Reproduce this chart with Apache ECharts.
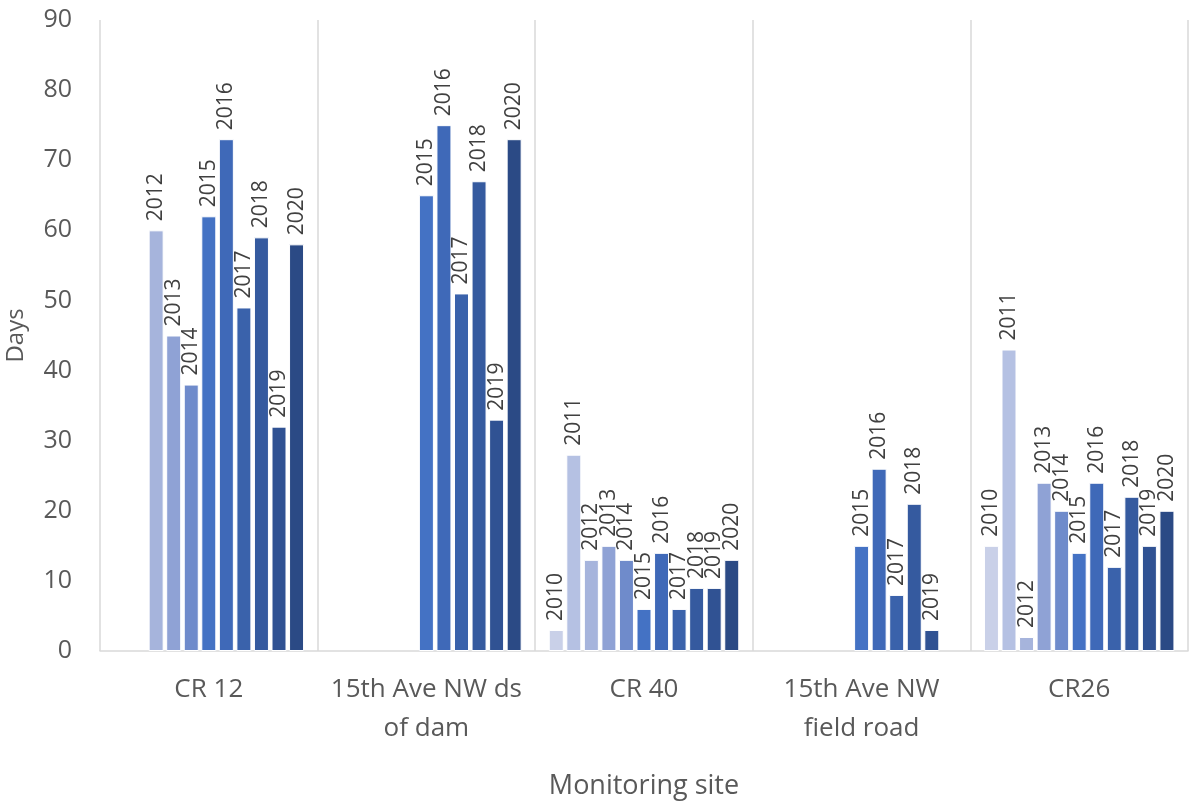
<!DOCTYPE html>
<html>
<head>
<meta charset="utf-8">
<script src="https://cdn.jsdelivr.net/npm/echarts@6/dist/echarts.min.js"></script>
<style>
  html, body { margin: 0; padding: 0; background: #fff; }
  #chart { width: 1191px; height: 802px; }
</style>
</head>
<body>
<div id="chart"></div>
<script>
// Monitoring sites along the x axis
const sites = ['CR 12', '15th Ave NW ds\nof dam', 'CR 40', '15th Ave NW\nfield road', 'CR26'];

// One series per year; null where a site was not monitored that year
const years = ['2010', '2011', '2012', '2013', '2014', '2015', '2016', '2017', '2018', '2019', '2020'];
const days2010 = [null, null, 3, null, 15];
const days2011 = [null, null, 28, null, 43];
const days2012 = [60, null, 13, null, 2];
const days2013 = [45, null, 15, null, 24];
const days2014 = [38, null, 13, null, 20];
const days2015 = [62, 65, 6, 15, 14];
const days2016 = [73, 75, 14, 26, 24];
const days2017 = [49, 51, 6, 8, 12];
const days2018 = [59, 67, 9, 21, 22];
const days2019 = [32, 33, 9, 3, 15];
const days2020 = [58, 73, 13, null, 20];
const yearValues = [days2010, days2011, days2012, days2013, days2014, days2015,
                    days2016, days2017, days2018, days2019, days2020];

// Monochrome blue ramp, light to dark
const yearColors = ['#C9D0E8', '#B5C1E3', '#A6B4DC', '#8FA2D5', '#6F8BCB', '#4472C4',
                    '#3F69B8', '#3A62AB', '#355A9F', '#305293', '#2B4A85'];

const font = '"Open Sans", "Noto Sans", sans-serif';

const series = years.map((y, i) => ({
  name: y,
  type: 'bar',
  data: yearValues[i],
  barWidth: 15,
  barGap: '17%',
  itemStyle: { color: yearColors[i], borderColor: '#ffffff', borderWidth: 1 },
  label: {
    show: true,
    position: 'top',
    rotate: 90,
    align: 'left',
    verticalAlign: 'middle',
    distance: 9,
    formatter: y,
    fontFamily: font,
    fontSize: 21,
    color: '#404040'
  }
}));

const chart = echarts.init(document.getElementById('chart'), null, { renderer: 'canvas' });
chart.setOption({
  animation: false,
  backgroundColor: '#ffffff',
  grid: { left: 100, right: 3, top: 20, bottom: 151, containLabel: false, outerBoundsMode: 'none' },
  xAxis: {
    type: 'category',
    data: sites,
    name: 'Monitoring site',
    nameLocation: 'middle',
    nameGap: 122,
    nameTextStyle: { fontFamily: font, fontSize: 27, color: '#595959' },
    axisLine: { show: true, lineStyle: { color: '#D9D9D9', width: 1.5 } },
    axisTick: { show: false },
    splitLine: { show: true, lineStyle: { color: '#D9D9D9', width: 1.5 } },
    axisLabel: {
      interval: 0,
      margin: 19,
      fontFamily: font,
      fontSize: 26,
      lineHeight: 39,
      color: '#595959'
    }
  },
  yAxis: {
    type: 'value',
    min: 0,
    max: 90,
    interval: 10,
    name: 'Days',
    nameLocation: 'middle',
    nameRotate: 90,
    nameGap: 72,
    nameTextStyle: { fontFamily: font, fontSize: 24, color: '#595959' },
    axisLine: { show: false },
    axisTick: { show: false },
    splitLine: { show: false },
    axisLabel: { margin: 28, fontFamily: font, fontSize: 25, color: '#595959' }
  },
  series: series
});
</script>
</body>
</html>
